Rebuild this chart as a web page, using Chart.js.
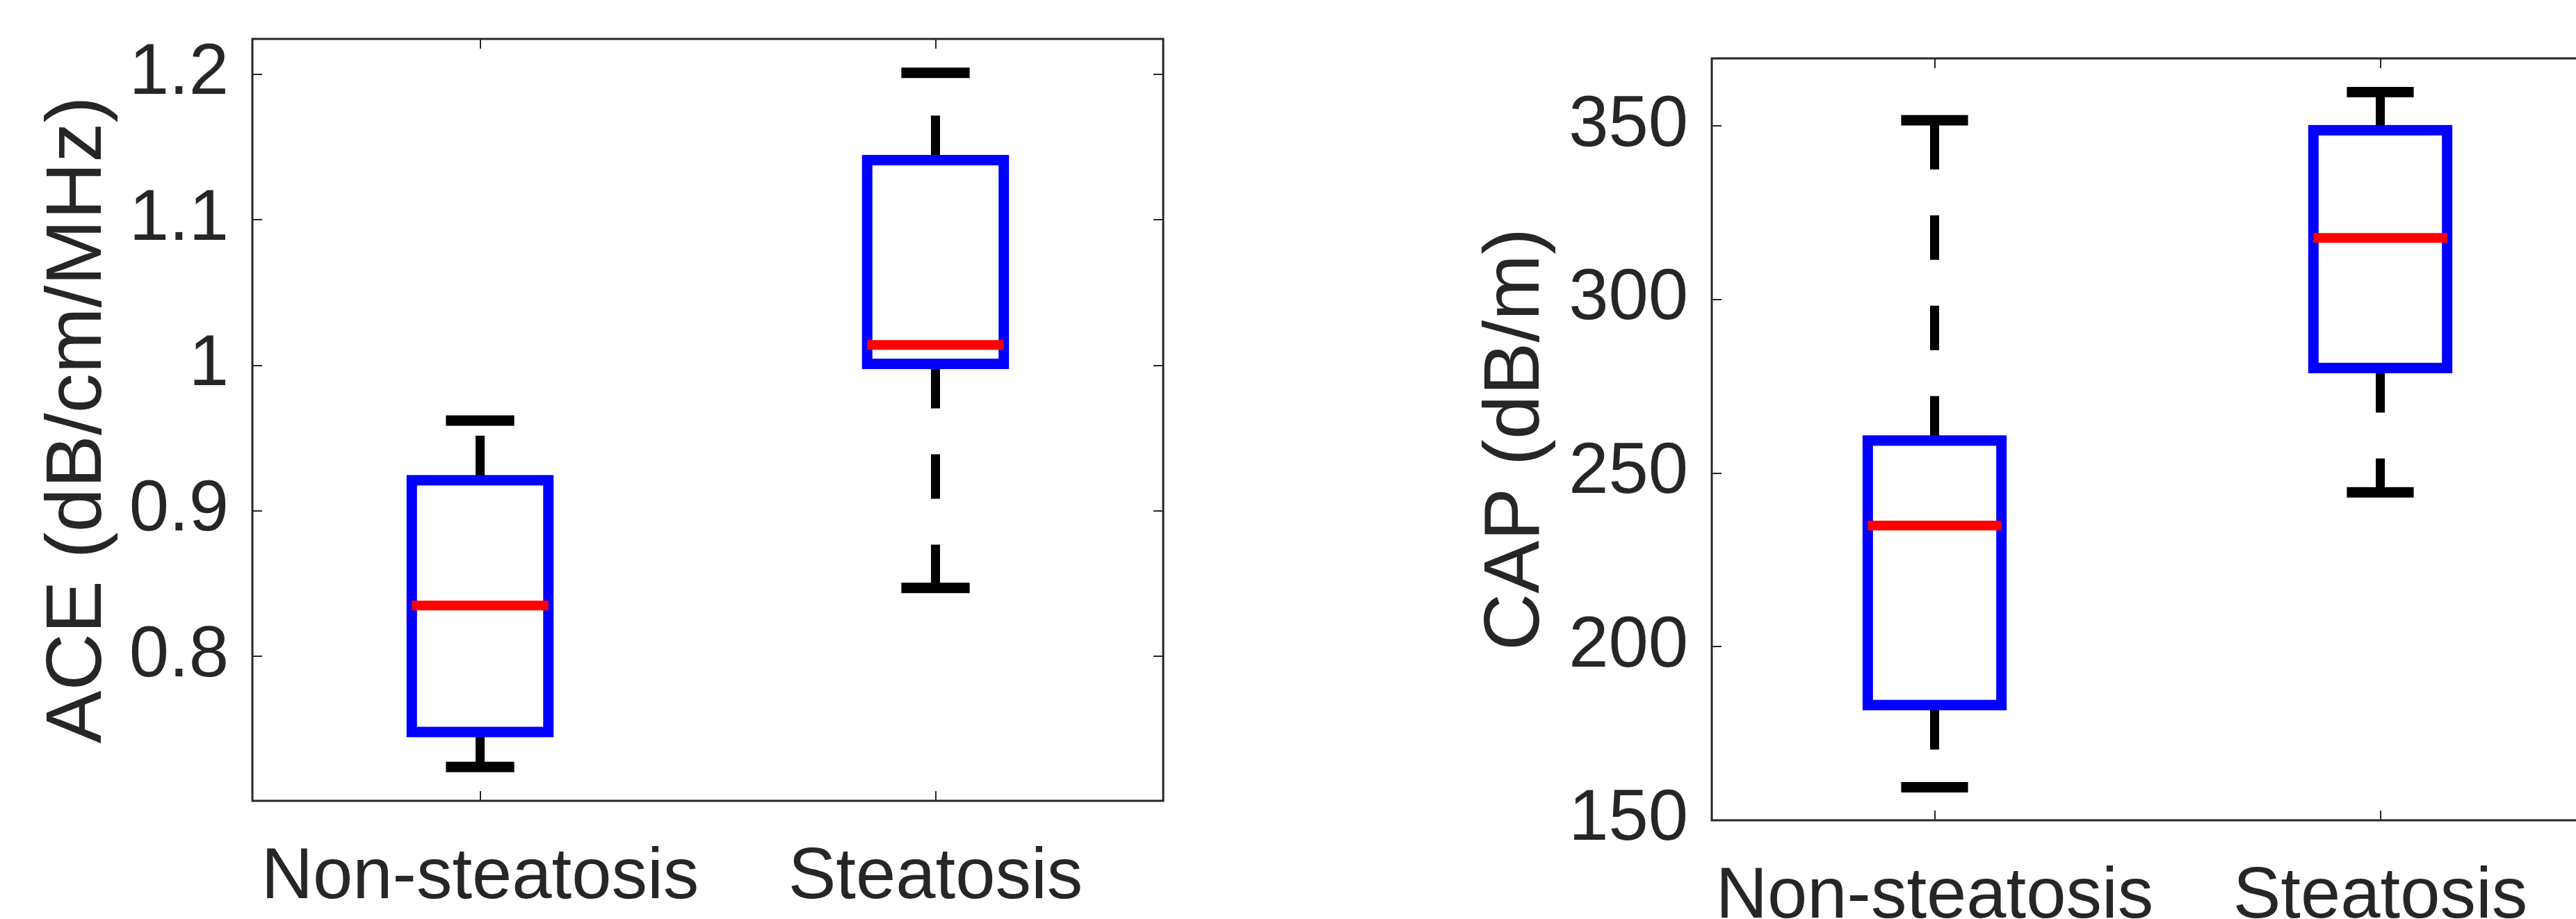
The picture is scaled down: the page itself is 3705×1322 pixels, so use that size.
<!DOCTYPE html>
<html>
<head>
<meta charset="utf-8">
<script src="https://cdn.jsdelivr.net/npm/chart.js@4.4.1/dist/chart.umd.min.js"></script>
<style>
  html, body { margin: 0; padding: 0; background: #fff; }
  body { width: 3705px; height: 1322px; overflow: hidden; position: relative; }
  .panel { position: absolute; top: 0; height: 1322px; }
  #ace-wrap { left: 0; width: 1800px; }
  #cap-wrap { left: 1950px; width: 1900px; }
</style>
</head>
<body>
<div class="panel" id="ace-wrap"><canvas id="ace"></canvas></div>
<div class="panel" id="cap-wrap"><canvas id="cap"></canvas></div>
<script>
// Box plots: ACE and CAP, non-steatosis vs steatosis (MATLAB boxplot look).
const groups = ['Non-steatosis', 'Steatosis'];

// per group: lower whisker, Q1, median, Q3, upper whisker
const aceLow = [0.724, 0.847];
const aceQ1 = [0.748, 1.001];
const aceMedian = [0.835, 1.014];
const aceQ3 = [0.921, 1.141];
const aceHigh = [0.962, 1.201];
const aceTicks = [0.8, 0.9, 1, 1.1, 1.2];

const capLow = [159.5, 244.5];
const capQ1 = [183.2, 280.3];
const capMedian = [234.9, 317.8];
const capQ3 = [259.4, 348.8];
const capHigh = [351.7, 359.8];
const capTicks = [150, 200, 250, 300, 350];

Chart.defaults.font.family = "'Liberation Sans', Arial, Helvetica, sans-serif";
Chart.defaults.color = '#262626';

const AXIS = '#262626';
const BOX_W = 0.3;   // in x units
const CAP_W = 0.15;

// draws boxes, whiskers and the MATLAB style frame with inward ticks
function boxPlotPlugin(s) {
  return {
    id: 'boxPlot',
    afterDatasetsDraw(chart) {
      const { ctx, scales: { x, y } } = chart;
      ctx.save();
      ctx.lineCap = 'butt';
      s.median.forEach((m, i) => {
        const c = x.getPixelForValue(i + 1);
        const bl = x.getPixelForValue(i + 1 - BOX_W / 2), br = x.getPixelForValue(i + 1 + BOX_W / 2);
        const cl = x.getPixelForValue(i + 1 - CAP_W / 2), cr = x.getPixelForValue(i + 1 + CAP_W / 2);
        const yLo = y.getPixelForValue(s.low[i]), yQ1 = y.getPixelForValue(s.q1[i]);
        const yMed = y.getPixelForValue(m);
        const yQ3 = y.getPixelForValue(s.q3[i]), yHi = y.getPixelForValue(s.high[i]);

        // whiskers (dashed, drawn outward from the box)
        ctx.strokeStyle = '#000';
        ctx.lineWidth = 13;
        ctx.setLineDash([64, 66]);
        ctx.beginPath();
        ctx.moveTo(c, yQ3); ctx.lineTo(c, yHi);
        ctx.moveTo(c, yQ1); ctx.lineTo(c, yLo);
        ctx.stroke();
        ctx.setLineDash([]);

        // caps
        ctx.lineWidth = 15;
        ctx.beginPath();
        ctx.moveTo(cl, yHi); ctx.lineTo(cr, yHi);
        ctx.moveTo(cl, yLo); ctx.lineTo(cr, yLo);
        ctx.stroke();

        // box
        ctx.strokeStyle = '#0000ff';
        ctx.lineWidth = 15;
        ctx.lineJoin = 'miter';
        ctx.strokeRect(bl, yQ3, br - bl, yQ1 - yQ3);

        // median
        ctx.strokeStyle = '#ff0000';
        ctx.lineWidth = 14;
        ctx.beginPath();
        ctx.moveTo(bl, yMed); ctx.lineTo(br, yMed);
        ctx.stroke();
      });
      ctx.restore();
    },
    afterDraw(chart) {
      const { ctx, chartArea: a, scales: { x, y } } = chart;
      const tl = 14;
      ctx.save();
      ctx.strokeStyle = AXIS;
      ctx.lineWidth = 2;
      ctx.beginPath();
      y.ticks.forEach((t) => {
        const py = Math.round(y.getPixelForValue(t.value));
        ctx.moveTo(a.left, py); ctx.lineTo(a.left + tl, py);
        ctx.moveTo(a.right, py); ctx.lineTo(a.right - tl, py);
      });
      x.ticks.forEach((t) => {
        const px = Math.round(x.getPixelForValue(t.value));
        ctx.moveTo(px, a.bottom); ctx.lineTo(px, a.bottom - tl);
        ctx.moveTo(px, a.top); ctx.lineTo(px, a.top + tl);
      });
      ctx.stroke();
      ctx.lineWidth = 3;
      ctx.strokeRect(a.left, a.top, a.right - a.left, a.bottom - a.top);
      ctx.restore();
    },
  };
}

function renderBoxChart(canvasId, s, opts) {
  return new Chart(document.getElementById(canvasId), {
    type: 'scatter',
    data: {
      datasets: [{
        data: s.median.map((m, i) => ({ x: i + 1, y: m })),
        pointRadius: 0,
        showLine: false,
      }],
    },
    options: {
      responsive: true,
      maintainAspectRatio: false,
      animation: false,
      events: [],
      layout: { padding: { top: opts.top, right: opts.right, left: 0, bottom: 0 } },
      plugins: { legend: { display: false }, tooltip: { enabled: false } },
      scales: {
        x: {
          type: 'linear',
          min: 0.5,
          max: 2.5,
          grid: { display: false, drawTicks: false },
          border: { display: false },
          afterBuildTicks: (sc) => { sc.ticks = groups.map((g, i) => ({ value: i + 1 })); },
          afterFit: (sc) => {
            sc.height = opts.xHeight;
            sc.paddingLeft = 0;
            sc.paddingRight = 0;
          },
          ticks: {
            autoSkip: false,
            maxRotation: 0,
            padding: opts.xPad,
            font: { size: 103 },
            color: AXIS,
            callback: (v, i) => groups[i],
          },
        },
        y: {
          min: s.min,
          max: s.max,
          grid: { display: false, drawTicks: false },
          border: { display: false },
          afterBuildTicks: (sc) => { sc.ticks = s.ticks.map((v) => ({ value: v })); },
          afterFit: (sc) => {
            sc.width = opts.yWidth;
            sc.paddingTop = 0;
            sc.paddingBottom = 0;
          },
          ticks: {
            autoSkip: false,
            padding: 34,
            font: { size: 103 },
            color: AXIS,
            callback: (v) => String(v),
          },
          title: {
            display: true,
            text: opts.title,
            color: AXIS,
            font: { size: 114 },
            padding: { top: opts.titlePad, bottom: 0 },
          },
        },
      },
    },
    plugins: [boxPlotPlugin(s)],
  });
}

renderBoxChart('ace', {
  low: aceLow, q1: aceQ1, median: aceMedian, q3: aceQ3, high: aceHigh,
  ticks: aceTicks, min: 0.7007, max: 1.2243,
}, { title: 'ACE (dB/cm/MHz)', top: 56, right: 127, xHeight: 170, yWidth: 363, xPad: 50, titlePad: 45 });

renderBoxChart('cap', {
  low: capLow, q1: capQ1, median: capMedian, q3: capQ3, high: capHigh,
  ticks: capTicks, min: 150, max: 369.5,
}, { title: 'CAP (dB/m)', top: 84, right: 106, xHeight: 142, yWidth: 512, xPad: 50, titlePad: 163 });
</script>
</body>
</html>
